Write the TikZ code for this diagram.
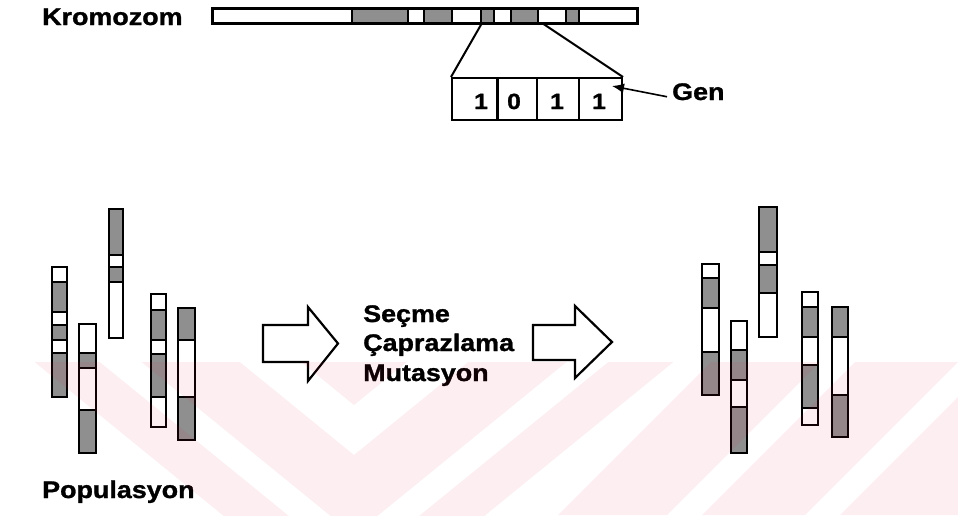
\documentclass[tikz,border=0pt]{standalone}
\usepackage{fontspec}
\setmainfont{Liberation Sans}[FakeStretch=1.12, BoldFeatures={FakeBold=1.2}]
\usetikzlibrary{arrows.meta}

\definecolor{stipple}{gray}{0.56}
\definecolor{wmred}{RGB}{230,20,60}

\tikzset{
  lbl/.style={font=\bfseries\fontsize{24}{28}\selectfont, inner sep=0pt, anchor=base west},
  digit/.style={font=\bfseries\fontsize{22}{24}\selectfont, inner sep=0pt, anchor=base},
  barline/.style={line width=3pt},
  segline/.style={line width=2pt},
  chromline/.style={line width=2.6pt},
  zoomline/.style={line width=2pt},
  blockarrow/.style={draw, line width=2.2pt, fill=white, line join=miter},
  wmark/.style={fill=wmred, fill opacity=0.07},
}

% vertical chromosome: left x, right x, top y, bottom y, segments top/bottom/colour
\newcommand\chromo[5]{%
  \foreach \ya/\yb/\fc in {#5}{\fill[\fc] (#1,\ya) rectangle (#2,\yb);}
  \foreach \ya/\yb/\fc in {#5}{\draw[segline] (#1,\ya) -- (#2,\ya);}
  \draw[chromline] (#1,#3) rectangle (#2,#4);
}

\begin{document}
\begin{tikzpicture}[x=1pt,y=-1pt]
\useasboundingbox (0,0) rectangle (958,515);
\fill[white] (0,0) rectangle (958,515);

% ---- chromosome bar ----
\foreach \xa/\xb/\fc in {212/352/white, 352/408/stipple, 408/424/white, 424/452/stipple,
  452/481/white, 481/494/stipple, 494/511/white, 511/538/stipple, 538/566/white,
  566/579/stipple, 579/637/white}
  {\fill[\fc] (\xa,8) rectangle (\xb,23);}
\foreach \xa in {352,408,424,452,481,494,511,538,566,579}
  {\draw[segline] (\xa,8) -- (\xa,23);}
\node[draw, barline, minimum width=425pt, minimum height=15pt, inner sep=0pt] (bar) at (424.5,15.5) {};
\node[lbl] (kromozom) at (42,25) {Kromozom};

% ---- one gene, enlarged ----
\node[draw, zoomline, minimum width=170pt, minimum height=42pt, inner sep=0pt] (gene) at (537,99) {};
\draw[line width=3pt] (497,78) -- (497,120);
\draw[zoomline] (537,78) -- (537,120);
\draw[zoomline] (579,78) -- (579,120);
\node[digit] (b1) at (481,109) {1};
\node[digit] (b2) at (514,109) {0};
\node[digit] (b3) at (557,109) {1};
\node[digit] (b4) at (599,109) {1};
\coordinate (gl) at (482,23);
\coordinate (gr) at (542,23);
\draw[zoomline] (gl) -- (gene.north west);
\draw[zoomline] (gr) -- (gene.north east);

\node[lbl] (gen) at (672,100) {Gen};
\coordinate (gtip) at (612,86);
\draw[line width=1.6pt, -{Latex[length=12pt,width=10pt]}] ([xshift=-5pt,yshift=-5pt]gen.west) -- (gtip);

% ---- initial population ----
\chromo{52}{67}{267}{397}{267/282/white, 282/312/stipple, 312/325/white, 325/340/stipple, 340/353/white, 353/397/stipple}
\chromo{79}{96}{324}{453}{324/353/white, 353/368/stipple, 368/410/white, 410/453/stipple}
\chromo{109}{123}{209}{338}{209/255/stipple, 255/267/white, 267/282/stipple, 282/338/white}
\chromo{151}{166}{294}{427}{294/310/white, 310/340/stipple, 340/354/white, 354/397/stipple, 397/427/white}
\chromo{178}{195}{308}{440}{308/340/stipple, 340/397/white, 397/440/stipple}
\node[lbl] (populasyon) at (42,498) {Populasyon};

% ---- operators ----
\draw[blockarrow] (263,325) -- (308,325) -- (308,307) -- (338,343.5) -- (308,381) -- (308,362) -- (263,362) -- cycle;
\node[lbl] (secme) at (363,322) {Seçme};
\node[lbl] (capraz) at (363,351) {Çaprazlama};
\node[lbl] (mutasyon) at (363,381) {Mutasyon};
\draw[blockarrow] (533,325) -- (575,325) -- (575,306) -- (612,342) -- (575,378) -- (575,360) -- (533,360) -- cycle;

% ---- new population ----
\chromo{702}{719}{264}{395}{264/278/white, 278/308/stipple, 308/352/white, 352/395/stipple}
\chromo{731}{747}{321}{453}{321/350/white, 350/380/stipple, 380/407/white, 407/453/stipple}
\chromo{759}{777}{207}{337}{207/252/stipple, 252/265/white, 265/293/stipple, 293/337/white}
\chromo{802}{818}{292}{425}{292/307/white, 307/337/stipple, 337/365/white, 365/408/stipple, 408/425/white}
\chromo{832}{848}{307}{437}{307/337/stipple, 337/395/white, 395/437/stipple}

% ---- faint chevron watermark over the lower part ----
\begin{scope}
\clip (0,362) rectangle (958,515);
\fill[wmark, even odd rule]
  (-41.6,300) -- (749.6,300) -- (354,622) -- cycle
  (23.5,300) -- (684.5,300) -- (354,569) -- cycle
  (65.3,300) -- (642.7,300) -- (354,535) -- cycle
  (163.6,300) -- (544.4,300) -- (354,455) -- cycle
  (225,300) -- (483,300) -- (354,405) -- cycle;
\fill[wmark] (773,300) -- (882,300) -- (667,515) -- (558,515) -- cycle;
\fill[wmark] (917,300) -- (1020,300) -- (805,515) -- (702,515) -- cycle;
\fill[wmark] (1055,300) -- (1200,300) -- (1200,515) -- (840,515) -- cycle;
\end{scope}
\end{tikzpicture}
\end{document}
